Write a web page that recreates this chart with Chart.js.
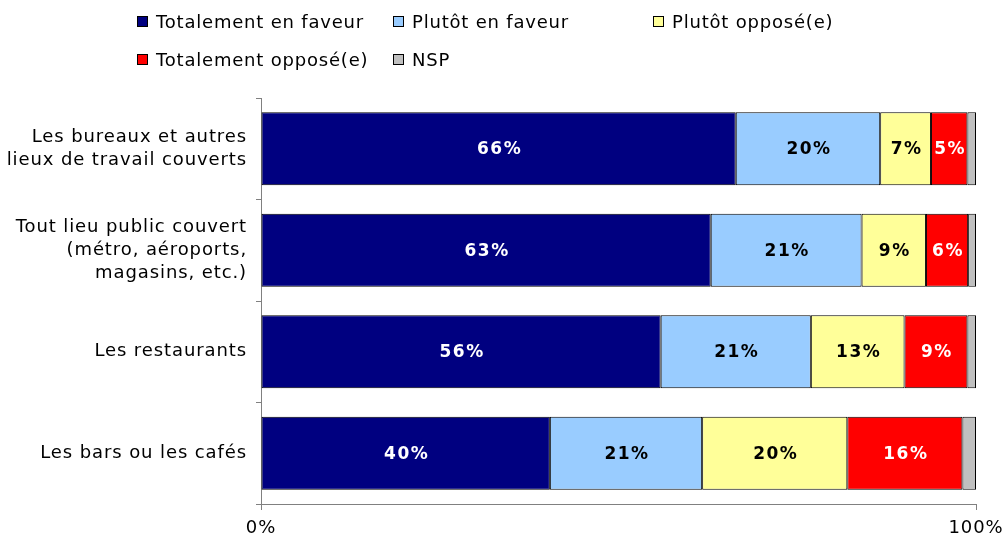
<!DOCTYPE html>
<html>
<head>
<meta charset="utf-8">
<script src="https://cdn.jsdelivr.net/npm/chart.js@4"></script>
<style>
    body { margin: 0; background: #fff; font-family: "DejaVu Sans", sans-serif; }
    #wrap { position: relative; width: 1007px; height: 538px; }
    #legend {
        position: absolute; left: 137px; top: 9px;
        display: grid; grid-template-columns: 256px 260px 260px;
        row-gap: 13px; font-size: 18px; letter-spacing: 0.8px; color: #000;
    }
    .item { display: flex; align-items: center; height: 25px; white-space: nowrap; }
    .box { width: 9px; height: 9px; border: 1px solid #000; margin-right: 8px; }
</style>
</head>
<body>
<div id="wrap">
    <div id="legend"></div>
    <canvas id="chart" width="1007" height="538"></canvas>
</div>
<script>
// Categories (multi-line labels)
const categories = [
    ['Les bureaux et autres', 'lieux de travail couverts'],
    ['Tout lieu public couvert', '(métro, aéroports,', 'magasins, etc.)'],
    'Les restaurants',
    'Les bars ou les cafés'
];

const seriesNames = ['Totalement en faveur', 'Plutôt en faveur', 'Plutôt opposé(e)', 'Totalement opposé(e)', 'NSP'];
const totalementFaveur = [66.4, 62.9, 55.9, 40.4];
const plutotFaveur     = [20.2, 21.1, 21.0, 21.3];
const plutotOppose     = [7.1, 9.0, 13.1, 20.3];
const totalementOppose = [5.1, 5.9, 8.8, 16.1];
const nsp              = [1.2, 1.1, 1.2, 1.9];
const xTicks = [0, 100];

const colors = ['#000080', '#99CCFF', '#FFFF99', '#FF0000', '#C0C0C0'];
const labelColors = ['#fff', '#000', '#000', '#fff', null];
const seriesData = [totalementFaveur, plutotFaveur, plutotOppose, totalementOppose, nsp];

// HTML legend
const legend = document.getElementById('legend');
seriesNames.forEach((name, i) => {
    const item = document.createElement('div');
    item.className = 'item';
    item.innerHTML = '<span class="box" style="background:' + colors[i] + '"></span>' + name;
    legend.appendChild(item);
});

// wider text like the original
const spacing = {
    id: 'spacing',
    beforeDraw(chart) { chart.ctx.letterSpacing = '0.9px'; }
};

// Draw value labels in bar centres
const barLabels = {
    id: 'barLabels',
    afterDatasetsDraw(chart) {
        const c = chart.ctx;
        c.save();
        c.font = 'bold 17px "DejaVu Sans"';
        c.letterSpacing = '1.5px';
        c.textAlign = 'center';
        c.textBaseline = 'middle';
        chart.data.datasets.forEach((ds, i) => {
            if (!labelColors[i]) return;
            chart.getDatasetMeta(i).data.forEach((bar, j) => {
                const x = (bar.x + bar.base) / 2;
                c.fillStyle = labelColors[i];
                c.fillText(Math.round(ds.data[j]) + '%', x + 1, bar.y + 1);
            });
        });
        c.restore();
    }
};

const ctx = document.getElementById('chart').getContext('2d');
const chart = new Chart(ctx, {
    type: 'bar',
    data: {
        labels: categories,
        datasets: seriesData.map((d, i) => ({
            label: seriesNames[i],
            data: d,
            backgroundColor: colors[i],
            borderColor: '#000',
            borderWidth: 1,
            borderSkipped: false,
            categoryPercentage: 0.72,
            barPercentage: 1
        }))
    },
    options: {
        indexAxis: 'y',
        responsive: false,
        animation: false,
        layout: { padding: { top: 98, right: 31, left: 0, bottom: 0 } },
        plugins: {
            legend: { display: false },
            tooltip: { enabled: false }
        },
        scales: {
            x: {
                stacked: true,
                min: 0,
                max: 100,
                afterBuildTicks: (scale) => { scale.ticks = xTicks.map(v => ({ value: v })); },
                afterFit: (scale) => {
                    scale.height = 34;
                    scale.paddingLeft = 0;
                    scale.paddingRight = 0;
                },
                grid: { drawOnChartArea: false, color: '#808080', tickLength: 6 },
                border: { color: '#808080' },
                ticks: {
                    color: '#000',
                    font: { family: 'DejaVu Sans', size: 18 },
                    padding: 8,
                    maxRotation: 0,
                    callback: (v) => v + '%'
                }
            },
            y: {
                stacked: true,
                afterFit: (scale) => { scale.width = 261; },
                grid: { drawOnChartArea: false, offset: true, color: '#808080', tickLength: 5 },
                border: { color: '#808080' },
                ticks: {
                    color: '#000',
                    font: { family: 'DejaVu Sans', size: 18, lineHeight: 1.28 },
                    padding: 9
                }
            }
        }
    },
    plugins: [spacing, barLabels]
});
</script>
</body>
</html>
